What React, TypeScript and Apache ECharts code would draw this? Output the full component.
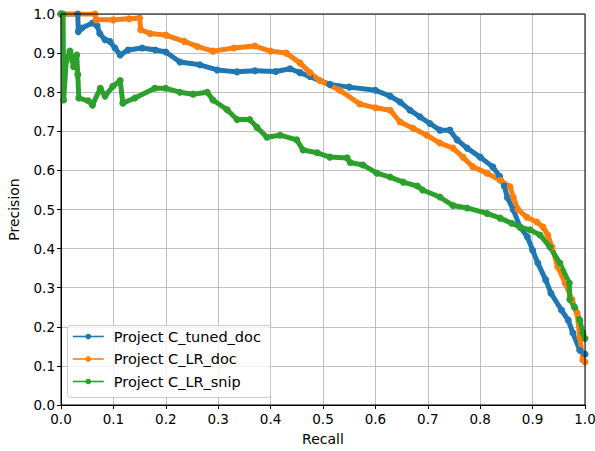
import React, { useEffect, useRef } from "react";
import * as echarts from "echarts";

const seriesNames = ["Project C_tuned_doc", "Project C_LR_doc", "Project C_LR_snip"];
const colors = ["#1f77b4", "#ff7f0e", "#2ca02c"];

const tunedDoc: [number, number][] = [
  [0.0, 1.0], [0.032, 1.0], [0.033, 0.955], [0.04, 0.964], [0.06, 0.977], [0.069, 0.97],
  [0.074, 0.95], [0.084, 0.934], [0.093, 0.93], [0.103, 0.913], [0.113, 0.895],
  [0.128, 0.908], [0.155, 0.913], [0.18, 0.908], [0.2, 0.903], [0.227, 0.877],
  [0.265, 0.87], [0.298, 0.857], [0.336, 0.852], [0.37, 0.855], [0.41, 0.853],
  [0.437, 0.86], [0.456, 0.85], [0.475, 0.84], [0.513, 0.82], [0.55, 0.813],
  [0.6, 0.805], [0.628, 0.79], [0.647, 0.775], [0.666, 0.754], [0.685, 0.737],
  [0.704, 0.72], [0.723, 0.703], [0.742, 0.703], [0.756, 0.678], [0.775, 0.657],
  [0.8, 0.634], [0.824, 0.609], [0.837, 0.585], [0.846, 0.56], [0.852, 0.53],
  [0.863, 0.5], [0.876, 0.455], [0.89, 0.43], [0.9, 0.396], [0.91, 0.363],
  [0.925, 0.32], [0.935, 0.286], [0.955, 0.243], [0.968, 0.217], [0.977, 0.184],
  [0.99, 0.14], [1.0, 0.13]
];

const lrDoc: [number, number][] = [
  [0.0, 1.0], [0.065, 1.0], [0.067, 0.985], [0.1, 0.985], [0.13, 0.988], [0.15, 0.99],
  [0.152, 0.96], [0.17, 0.95], [0.2, 0.946], [0.235, 0.93], [0.26, 0.917],
  [0.29, 0.905], [0.33, 0.913], [0.37, 0.918], [0.4, 0.905], [0.43, 0.9],
  [0.456, 0.875], [0.475, 0.85], [0.494, 0.83], [0.532, 0.805], [0.57, 0.77],
  [0.6, 0.76], [0.628, 0.754], [0.647, 0.724], [0.672, 0.708], [0.698, 0.69],
  [0.723, 0.67], [0.748, 0.657], [0.767, 0.634], [0.786, 0.609], [0.813, 0.593],
  [0.838, 0.575], [0.857, 0.558], [0.863, 0.532], [0.872, 0.5], [0.889, 0.48],
  [0.908, 0.468], [0.92, 0.455], [0.929, 0.435], [0.937, 0.404], [0.948, 0.353],
  [0.962, 0.312], [0.975, 0.27], [0.985, 0.235], [0.99, 0.174], [0.996, 0.115],
  [1.0, 0.11]
];

const lrSnip: [number, number][] = [
  [0.0, 1.0], [0.004, 1.0], [0.005, 0.78], [0.01, 0.88], [0.017, 0.905], [0.02, 0.89],
  [0.024, 0.865], [0.03, 0.895], [0.032, 0.845], [0.034, 0.785], [0.052, 0.778],
  [0.06, 0.767], [0.075, 0.81], [0.084, 0.79], [0.099, 0.815], [0.113, 0.83],
  [0.118, 0.772], [0.141, 0.785], [0.179, 0.81], [0.2, 0.81], [0.227, 0.8],
  [0.252, 0.795], [0.279, 0.8], [0.29, 0.78], [0.317, 0.755], [0.336, 0.73],
  [0.36, 0.73], [0.374, 0.71], [0.393, 0.685], [0.418, 0.69], [0.45, 0.678],
  [0.462, 0.652], [0.489, 0.645], [0.513, 0.634], [0.546, 0.632], [0.552, 0.62],
  [0.576, 0.614], [0.603, 0.593], [0.628, 0.583], [0.653, 0.57], [0.68, 0.56],
  [0.69, 0.55], [0.723, 0.532], [0.748, 0.51], [0.775, 0.504], [0.813, 0.49],
  [0.838, 0.478], [0.86, 0.465], [0.876, 0.455], [0.895, 0.448], [0.914, 0.435],
  [0.933, 0.404], [0.952, 0.363], [0.97, 0.312], [0.971, 0.27], [0.98, 0.25],
  [0.99, 0.217], [0.996, 0.184], [1.0, 0.17]
];

const allData = [tunedDoc, lrDoc, lrSnip];

const GRID = { left: 61, right: 10, top: 14, bottom: 46 };
const W = 595;
const H = 451;

export default function App() {
  const ref = useRef<HTMLDivElement>(null);
  useEffect(() => {
    if (!ref.current) return;
    const chart = echarts.init(ref.current, undefined, { renderer: "svg" });
    const font = "DejaVu Sans";
    const axisCommon = {
      type: "value" as const,
      min: 0,
      max: 1,
      interval: 0.1,
      axisLine: { show: true, onZero: false, lineStyle: { color: "#000", width: 1 } },
      axisTick: { show: true, inside: false, length: 4, lineStyle: { color: "#000", width: 1 } },
      axisLabel: {
        color: "#000",
        fontFamily: font,
        fontSize: 13.5,
        formatter: (v: number) => v.toFixed(1),
      },
      splitLine: { show: true, lineStyle: { color: "#b0b0b0", width: 0.8 } },
      nameLocation: "middle" as const,
      nameTextStyle: { color: "#000", fontFamily: font, fontSize: 14 },
    };
    chart.setOption({
      animation: false,
      backgroundColor: "#fff",
      grid: { ...GRID, outerBoundsMode: "none", containLabel: false },
      xAxis: {
        ...axisCommon,
        name: "Recall",
        nameGap: 27,
        axisLabel: { ...axisCommon.axisLabel, margin: 7 },
      },
      yAxis: {
        ...axisCommon,
        name: "Precision",
        nameGap: 40,
        axisLabel: { ...axisCommon.axisLabel, margin: 6 },
      },
      graphic: [
        {
          type: "rect",
          z: 10,
          silent: true,
          shape: {
            x: GRID.left,
            y: GRID.top,
            width: W - GRID.left - GRID.right,
            height: H - GRID.top - GRID.bottom,
          },
          style: { fill: "none", stroke: "#000", lineWidth: 1 },
        },
        {
          type: "rect",
          z: 3,
          shape: { x: 67.5, y: 325.5, width: 203, height: 72, r: 3 },
          style: { fill: "rgba(255,255,255,0.8)", stroke: "#cccccc", lineWidth: 1 },
        },
      ],
      legend: {
        show: true,
        orient: "vertical",
        left: 72,
        top: 329,
        padding: 0,
        itemWidth: 31,
        itemHeight: 7,
        itemGap: 7.5,
        z: 5,
        lineStyle: { width: 1.6 },
        textStyle: { color: "#000", fontFamily: font, fontSize: 14.5, padding: [0, 0, 0, 5] },
        data: seriesNames,
      },
      series: allData.map((d, i) => ({
        type: "line",
        name: seriesNames[i],
        data: d,
        color: colors[i],
        symbol: "circle",
        symbolSize: 7,
        showSymbol: true,
        lineStyle: { width: 5, color: colors[i] },
        itemStyle: { color: colors[i] },
        clip: true,
      })),
    });
    return () => chart.dispose();
  }, []);
  return (
    <div
      ref={ref}
      style={{ position: "fixed", left: 0, top: 0, width: W, height: H }}
    />
  );
}
